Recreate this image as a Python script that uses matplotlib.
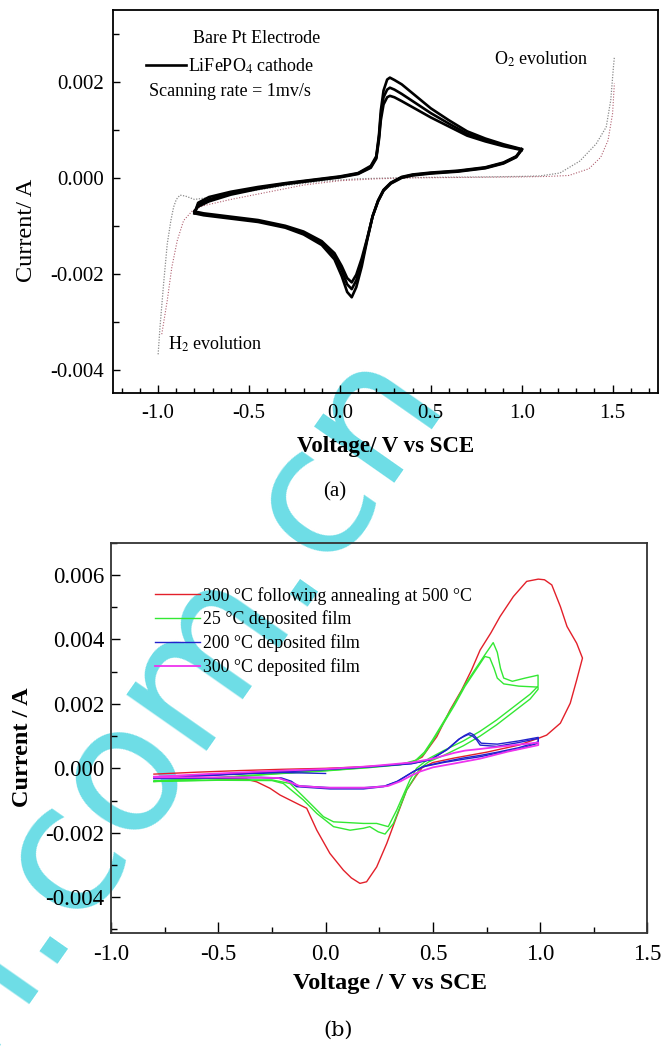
import matplotlib
matplotlib.use("Agg")
import matplotlib.pyplot as plt
from matplotlib.ticker import MultipleLocator, FormatStrFormatter
from matplotlib.lines import Line2D

plt.rcParams['font.family'] = ['Liberation Serif', 'DejaVu Serif']
plt.rcParams['mathtext.fontset'] = 'stix'
plt.rcParams['axes.unicode_minus'] = False

# ---------------- Panel (a) data: LiFePO4 cathode, 3 cycles ----------------
V_anodic = [-0.80, -0.78, -0.72, -0.60, -0.45, -0.30, -0.15, 0.00, 0.10, 0.17, 0.20,
            0.215, 0.225, 0.24, 0.26, 0.275, 0.30, 0.34, 0.42, 0.50, 0.60, 0.70, 0.80, 0.90, 1.00]
I_anodic_1 = [-0.00074, -0.00052, -0.00040, -0.00029, -0.00019, -0.00011, -0.00004, 0.00003, 0.00010,
              0.00025, 0.00045, 0.00090, 0.00140, 0.00182, 0.00205, 0.00209, 0.00204, 0.00195,
              0.00170, 0.00145, 0.00120, 0.00097, 0.00082, 0.00070, 0.00060]
I_anodic_2 = [-0.00072, -0.00056, -0.00045, -0.00032, -0.00021, -0.00012, -0.00005, 0.00002, 0.00009,
              0.00023, 0.00042, 0.00085, 0.00130, 0.00168, 0.00184, 0.00188, 0.00184, 0.00175,
              0.00155, 0.00135, 0.00113, 0.00092, 0.00079, 0.00068, 0.00059]
I_anodic_3 = [-0.00070, -0.00060, -0.00049, -0.00035, -0.00023, -0.00013, -0.00006, 0.00001, 0.00008,
              0.00021, 0.00040, 0.00080, 0.00120, 0.00153, 0.00168, 0.00171, 0.00168, 0.00160,
              0.00143, 0.00126, 0.00107, 0.00088, 0.00076, 0.00066, 0.00058]

V_cathodic = [1.00, 0.97, 0.90, 0.80, 0.65, 0.50, 0.40, 0.34, 0.28, 0.24, 0.21, 0.18, 0.15,
              0.12, 0.09, 0.065, 0.04, 0.01, -0.03, -0.10, -0.20, -0.30, -0.45, -0.60, -0.75, -0.80]
I_cathodic_1 = [0.00060, 0.00045, 0.00032, 0.00022, 0.00015, 0.00011, 0.00007, 0.00002, -0.00010,
                -0.00025, -0.00047, -0.00080, -0.00130, -0.00185, -0.00228, -0.00249, -0.00238,
                -0.00205, -0.00170, -0.00140, -0.00118, -0.00104, -0.00092, -0.00085, -0.00078, -0.00074]
I_cathodic_2 = [0.00059, 0.00044, 0.00031, 0.00021, 0.00014, 0.00010, 0.00006, 0.00001, -0.00011,
                -0.00026, -0.00048, -0.00080, -0.00128, -0.00176, -0.00214, -0.00232, -0.00222,
                -0.00193, -0.00163, -0.00136, -0.00115, -0.00102, -0.00090, -0.00083, -0.00076, -0.00072]
I_cathodic_3 = [0.00058, 0.00043, 0.00030, 0.00020, 0.00013, 0.00009, 0.00005, 0.00000, -0.00012,
                -0.00027, -0.00049, -0.00080, -0.00126, -0.00168, -0.00202, -0.00218, -0.00209,
                -0.00184, -0.00157, -0.00132, -0.00112, -0.00100, -0.00088, -0.00081, -0.00074, -0.00070]

# Bare Pt electrode (dotted) two sweeps
V_pt_a = [-1.00, -0.99, -0.97, -0.95, -0.93, -0.915, -0.90, -0.88, -0.85, -0.80, -0.70, -0.50, -0.30,
          -0.10, 0.10, 0.30, 0.50, 0.80, 1.00, 1.10, 1.21, 1.32, 1.41, 1.465, 1.49, 1.505, 1.51]
I_pt_a = [-0.00368, -0.00312, -0.00221, -0.00138, -0.00089, -0.00061, -0.00045, -0.00036, -0.00038,
          -0.00045, -0.00040, -0.00028, -0.00016, -0.00007, -0.00002, 0.00000, 0.00001, 0.00002,
          0.00003, 0.00004, 0.00010, 0.00035, 0.00071, 0.00106, 0.00162, 0.00232, 0.00252]
V_pt_b = [-0.98, -0.95, -0.925, -0.895, -0.86, -0.81, -0.75, -0.60, -0.40, -0.20, 0.00, 0.20, 0.40,
          0.70, 1.00, 1.15, 1.26, 1.37, 1.435, 1.475, 1.50, 1.51]
I_pt_b = [-0.00326, -0.00256, -0.00187, -0.00131, -0.00089, -0.00068, -0.00058, -0.00045, -0.00030,
          -0.00015, -0.00006, -0.00002, 0.00000, 0.00001, 0.00002, 0.00003, 0.00005, 0.00019,
          0.00043, 0.00078, 0.00134, 0.00197]

# ---------------- Panel (b) data ----------------
labels_b = ["300 \u00b0C following annealing at 500 \u00b0C", "25 \u00b0C deposited film",
            "200 \u00b0C deposited film", "300 \u00b0C deposited film"]
colors_b = ["#e3202a", "#33e833", "#2222cc", "#ee33ee"]

V_red = [-0.80, -0.60, -0.40, -0.20, 0.00, 0.15, 0.30, 0.40, 0.45, 0.518, 0.58, 0.634, 0.68, 0.72,
         0.77, 0.813, 0.875, 0.937, 0.991, 1.02, 1.054, 1.094, 1.125, 1.17, 1.197, 1.17, 1.14,
         1.094, 1.03, 0.991, 0.90, 0.75, 0.60, 0.50, 0.45, 0.42, 0.378, 0.331, 0.285, 0.238,
         0.191, 0.160, 0.12, 0.083, 0.02, -0.041, -0.088, -0.119, -0.212, -0.259, -0.321,
         -0.368, -0.47, -0.60, -0.80]
I_red = [-0.00018, -0.00012, -0.00007, -0.00003, 0.00000, 0.00004, 0.00010, 0.00018, 0.00035,
         0.00098, 0.00181, 0.00243, 0.00305, 0.00367, 0.00420, 0.00471, 0.00533, 0.00580, 0.00587,
         0.00585, 0.00569, 0.00502, 0.00440, 0.00388, 0.00342, 0.00274, 0.00202, 0.00140, 0.00103,
         0.00093, 0.00072, 0.00050, 0.00032, 0.00018, 0.00002, -0.00025, -0.00067, -0.00150,
         -0.00233, -0.00306, -0.00352, -0.00357, -0.00340, -0.00316, -0.00264, -0.00192, -0.00124,
         -0.00114, -0.00083, -0.00062, -0.00042, -0.00034, -0.00033, -0.00030, -0.00027]

V_green_1 = [-0.80, -0.60, -0.40, -0.20, 0.00, 0.20, 0.35, 0.42, 0.46, 0.50, 0.55, 0.60, 0.65, 0.70,
             0.74, 0.781, 0.80, 0.815, 0.83, 0.87, 0.93, 0.99, 0.99, 0.953, 0.875, 0.797, 0.72,
             0.642, 0.55, 0.48, 0.424, 0.393, 0.331, 0.292, 0.238, 0.176, 0.037, -0.01, -0.088,
             -0.166, -0.25, -0.50, -0.80]
I_green_1 = [-0.00040, -0.00032, -0.00024, -0.00015, -0.00007, 0.00003, 0.00012, 0.00025, 0.00050,
             0.00090, 0.00145, 0.00200, 0.00260, 0.00310, 0.00350, 0.00390, 0.00360, 0.00310,
             0.00280, 0.00270, 0.00280, 0.00289, 0.00255, 0.00230, 0.00190, 0.00150, 0.00115,
             0.00085, 0.00055, 0.00030, 0.00000, -0.00036, -0.00130, -0.00181, -0.00171, -0.00171,
             -0.00166, -0.00150, -0.00098, -0.00047, -0.00036, -0.00036, -0.00040]
V_green_2 = [-0.80, -0.60, -0.40, -0.20, 0.00, 0.20, 0.35, 0.42, 0.46, 0.50, 0.55, 0.60, 0.65, 0.70,
             0.742, 0.765, 0.785, 0.80, 0.83, 0.90, 0.99, 0.99, 0.953, 0.875, 0.797, 0.72, 0.642,
             0.55, 0.48, 0.44, 0.378, 0.316, 0.277, 0.245, 0.206, 0.176, 0.114, 0.037, -0.041,
             -0.104, -0.197, -0.25, -0.50, -0.80]
I_green_2 = [-0.00041, -0.00033, -0.00025, -0.00016, -0.00008, 0.00002, 0.00011, 0.00023, 0.00045,
             0.00085, 0.00140, 0.00195, 0.00255, 0.00305, 0.00347, 0.00343, 0.00310, 0.00280,
             0.00262, 0.00255, 0.00252, 0.00245, 0.00215, 0.00175, 0.00135, 0.00100, 0.00070,
             0.00040, 0.00020, 0.00000, -0.00067, -0.00171, -0.00204, -0.00197, -0.00181, -0.00186,
             -0.00192, -0.00181, -0.00140, -0.00098, -0.00047, -0.00038, -0.00037, -0.00041]

V_blue_1 = [0.00, -0.20, -0.50, -0.80, -0.50, -0.20, 0.00, 0.20, 0.40, 0.486, 0.564, 0.62, 0.642,
            0.665, 0.685, 0.704, 0.72, 0.797, 0.90, 0.991, 0.991, 0.90, 0.80, 0.72, 0.642, 0.55,
            0.456, 0.409, 0.331, 0.27, 0.176, 0.021, -0.135, -0.166, -0.212, -0.30, -0.50, -0.80]
I_blue_1 = [-0.00016, -0.00013, -0.00019, -0.00029, -0.00020, -0.00010, -0.00003, 0.00005, 0.00015,
            0.00026, 0.00057, 0.00090, 0.00098, 0.00105, 0.00100, 0.00088, 0.00072, 0.00068,
            0.00080, 0.00093, 0.00078, 0.00060, 0.00047, 0.00036, 0.00028, 0.00018, 0.00005,
            -0.00010, -0.00042, -0.00057, -0.00064, -0.00064, -0.00057, -0.00042, -0.00031,
            -0.00029, -0.00030, -0.00032]
V_blue_2 = [-0.80, -0.50, -0.20, 0.00, 0.20, 0.40, 0.49, 0.57, 0.625, 0.648, 0.672, 0.69, 0.708,
            0.725, 0.80, 0.90, 0.991, 0.991, 0.90, 0.80, 0.72, 0.642, 0.55, 0.46, 0.415, 0.335,
            0.275, 0.18, 0.02, -0.13, -0.16, -0.205, -0.30, -0.50, -0.80]
I_blue_2 = [-0.00031, -0.00021, -0.00011, -0.00004, 0.00004, 0.00014, 0.00027, 0.00060, 0.00092,
            0.00102, 0.00110, 0.00104, 0.00090, 0.00078, 0.00075, 0.00085, 0.00096, 0.00082,
            0.00064, 0.00050, 0.00040, 0.00032, 0.00020, 0.00007, -0.00008, -0.00040, -0.00055,
            -0.00060, -0.00060, -0.00054, -0.00040, -0.00030, -0.00028, -0.00029, -0.00031]

V_magenta = [-0.80, -0.50, -0.20, 0.00, 0.20, 0.40, 0.50, 0.60, 0.65, 0.72, 0.85, 0.991, 0.991,
             0.85, 0.72, 0.60, 0.50, 0.44, 0.40, 0.35, 0.29, 0.20, 0.00, -0.12, -0.17, -0.22,
             -0.40, -0.80]
I_magenta = [-0.00026, -0.00016, -0.00007, -0.00002, 0.00006, 0.00018, 0.00030, 0.00048, 0.00055,
             0.00060, 0.00070, 0.00080, 0.00072, 0.00052, 0.00030, 0.00015, 0.00003, -0.00010,
             -0.00022, -0.00040, -0.00055, -0.00060, -0.00060, -0.00055, -0.00042, -0.00030,
             -0.00028, -0.00028]

# ---------------- Figure ----------------
fig = plt.figure(figsize=(6.69, 10.47), dpi=100)

# watermark behind everything
fig.text(-0.035, -0.01, "n.com.cn", rotation=55, rotation_mode='anchor', fontsize=128,
         color='#6ddde6', family='DejaVu Sans', ha='left', va='baseline', zorder=-5)

ax1 = fig.add_axes([0.16846, 0.62493, 0.81510, 0.36552])
ax1.set_facecolor('none')

# bare Pt dotted lines
ax1.plot(V_pt_a, I_pt_a, color='#8a8a8a', lw=0.9, ls=(0, (1, 1.2)), zorder=2)
ax1.plot(V_pt_b, I_pt_b, color='#b06070', lw=0.8, ls=(0, (1, 1.5)), zorder=2)

cyc_a = [I_anodic_1, I_anodic_2, I_anodic_3]
cyc_c = [I_cathodic_1, I_cathodic_2, I_cathodic_3]
for ia, ic in zip(cyc_a, cyc_c):
    ax1.plot(V_anodic, ia, color='black', lw=1.9, solid_joinstyle='round', zorder=3)
    ax1.plot(V_cathodic, ic, color='black', lw=1.9, solid_joinstyle='round', zorder=3)

ax1.set_xlim(-1.25, 1.75)
ax1.set_ylim(-0.00448, 0.0035)
ax1.xaxis.set_major_locator(MultipleLocator(0.5))
ax1.xaxis.set_minor_locator(MultipleLocator(0.1))
ax1.yaxis.set_major_locator(MultipleLocator(0.002))
ax1.yaxis.set_minor_locator(MultipleLocator(0.001))
ax1.xaxis.set_major_formatter(FormatStrFormatter('%.1f'))
ax1.yaxis.set_major_formatter(FormatStrFormatter('%.3f'))
ax1.tick_params(axis='both', which='both', direction='in', top=False, right=False)
ax1.tick_params(axis='x', which='major', length=6, width=1.0, labelsize=15, pad=8)
ax1.tick_params(axis='x', which='minor', length=3.5, width=1.0)
ax1.tick_params(axis='y', which='major', length=5, width=1.0, labelsize=15, pad=6)
ax1.tick_params(axis='y', which='minor', length=4, width=1.0)
for s in ax1.spines.values():
    s.set_linewidth(1.3)

ax1.set_xlabel("Voltage/ V vs SCE", fontsize=16.5, fontweight='bold', va='center')
ax1.xaxis.set_label_coords(0.5, -0.14)
ax1.set_ylabel("Current/ A", fontsize=17.5, va='center')
ax1.yaxis.set_label_coords(-0.158, 0.425)

ax1.text(-0.806, 0.00291, "Bare Pt Electrode", fontsize=13, va='center', ha='left')
ax1.text(-1.049, 0.00181, "Scanning rate = 1mv/s", fontsize=13, va='center', ha='left')
ax1.text(0.849, 0.00248, "O$_2$ evolution", fontsize=13, va='center', ha='left')
ax1.text(-0.944, -0.00348, "H$_2$ evolution", fontsize=13, va='center', ha='left')
leg1 = ax1.legend([Line2D([], [], color='black', lw=1.9)], ["LiFePO$_4$ cathode"],
                  loc='center left', bbox_to_anchor=(0.061, 0.854), frameon=False,
                  fontsize=13, handlelength=2.2, handletextpad=0.15, borderpad=0,
                  borderaxespad=0)

fig.text(0.5007, 0.530, "(a)", fontsize=15, ha='center', va='center')

# ---------------- panel (b) ----------------
ax2 = fig.add_axes([0.16592, 0.10917, 0.80194, 0.37249])
ax2.set_facecolor('none')
lw_b = 1.0
ax2.plot(V_red, I_red, color=colors_b[0], lw=lw_b, label=labels_b[0])
ax2.plot(V_green_1, I_green_1, color=colors_b[1], lw=lw_b, label=labels_b[1])
ax2.plot(V_green_2, I_green_2, color=colors_b[1], lw=lw_b)
ax2.plot(V_blue_1, I_blue_1, color=colors_b[2], lw=lw_b, label=labels_b[2])
ax2.plot(V_blue_2, I_blue_2, color=colors_b[2], lw=lw_b)
ax2.plot(V_magenta, I_magenta, color=colors_b[3], lw=lw_b + 0.3, label=labels_b[3])

ax2.set_xlim(-1.0, 1.5)
ax2.set_ylim(-0.0051, 0.007)
ax2.xaxis.set_major_locator(MultipleLocator(0.5))
ax2.xaxis.set_minor_locator(MultipleLocator(0.25))
ax2.yaxis.set_major_locator(MultipleLocator(0.002))
ax2.yaxis.set_minor_locator(MultipleLocator(0.001))
ax2.xaxis.set_major_formatter(FormatStrFormatter('%.1f'))
ax2.yaxis.set_major_formatter(FormatStrFormatter('%.3f'))
ax2.tick_params(axis='both', which='both', direction='in', top=False, right=False)
ax2.tick_params(axis='x', which='major', length=8, width=1.0, labelsize=16.5, pad=8)
ax2.tick_params(axis='x', which='minor', length=4, width=1.0)
ax2.tick_params(axis='y', which='major', length=6.5, width=1.0, labelsize=16.5, pad=5)
ax2.tick_params(axis='y', which='minor', length=4, width=1.0)
for s in ax2.spines.values():
    s.set_linewidth(1.3)
    s.set_color('#333333')

ax2.set_xlabel("Voltage / V vs SCE", fontsize=17.5, fontweight='bold', va='center')
ax2.xaxis.set_label_coords(0.52, -0.13)
ax2.set_ylabel("Current / A", fontsize=17.5, fontweight='bold', va='center')
ax2.yaxis.set_label_coords(-0.165, 0.476)

ax2.legend(loc='upper left', bbox_to_anchor=(0.082, 0.887), frameon=False, fontsize=12.8,
           handlelength=2.55, handletextpad=0.15, borderpad=0, borderaxespad=0,
           labelspacing=0.33)

fig.text(0.505, 0.0162, "(b)", fontsize=15, ha='center', va='center', family='DejaVu Serif')

fig.savefig("out.png", dpi=100)
